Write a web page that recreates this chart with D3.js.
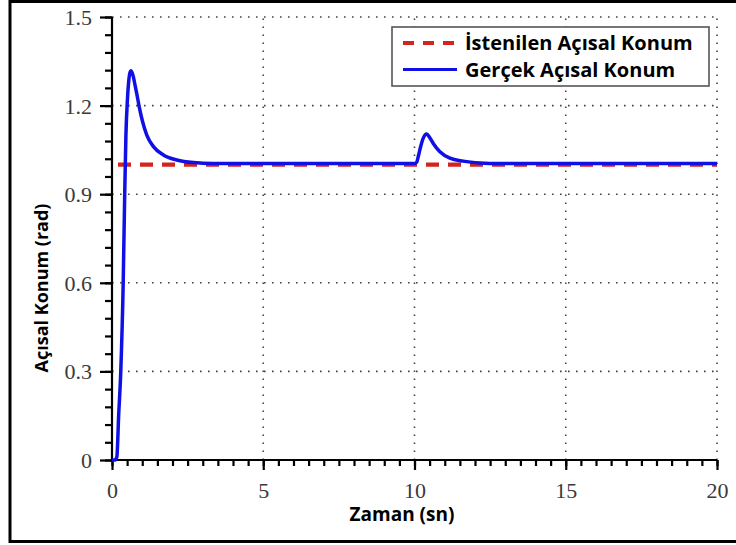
<!DOCTYPE html>
<html>
<head>
<meta charset="utf-8">
<script src="https://cdn.jsdelivr.net/npm/d3@7"></script>
<style>
  html, body { margin: 0; padding: 0; background: #fff; }
  svg { display: block; }
</style>
</head>
<body>
<svg id="chart" width="736" height="545"></svg>
<script>
// Time samples (s) and measured angular position (rad)
const timeSec = [0, 0.1, 0.16, 0.22, 0.29, 0.37, 0.42, 0.46, 0.51, 0.55, 0.59, 0.63, 0.705, 0.76, 0.815, 0.9, 1.01, 1.15, 1.37, 1.7, 2.14, 2.69, 3.35, 5, 8, 10.0, 10.07, 10.13, 10.2, 10.29, 10.4, 10.5, 10.62, 10.84, 11.17, 11.61, 12.17, 12.8, 15, 20];
const actualPos = [0, 0, 0.01, 0.15, 0.3, 0.6, 0.9, 1.1, 1.22, 1.28, 1.31, 1.318, 1.298, 1.27, 1.242, 1.196, 1.146, 1.10, 1.061, 1.033, 1.016, 1.007, 1.004, 1.004, 1.004, 1.004, 1.008, 1.03, 1.06, 1.09, 1.104, 1.092, 1.072, 1.044, 1.022, 1.012, 1.006, 1.004, 1.004, 1.004];
// Reference (desired) angular position
const refTime = [0, 20];
const refPos = [1.0, 1.0];

const xTicks = [0, 5, 10, 15, 20];
const yTicks = [0, 0.3, 0.6, 0.9, 1.2, 1.5];
const yTickLabels = ["0", "0.3", "0.6", "0.9", "1.2", "1.5"];

const legendLabels = ["İstenilen Açısal Konum", "Gerçek Açısal Konum"];
const xTitle = "Zaman (sn)";
const yTitle = "Açısal Konum (rad)";

const svg = d3.select("#chart");
const x = d3.scaleLinear().domain([0, 20]).range([112, 717]);
const y = d3.scaleLinear().domain([0, 1.5]).range([460, 17]);

// Outer frame
svg.append("rect")
  .attr("x", 10).attr("y", 1.5).attr("width", 740).attr("height", 540)
  .attr("fill", "none").attr("stroke", "#000").attr("stroke-width", 3);

// Dotted grid
const grid = svg.append("g").attr("stroke", "#444").attr("stroke-width", 1.6)
  .attr("stroke-dasharray", "1.6,6.4").attr("fill", "none");
xTicks.filter(d => d > 0).forEach(d => {
  grid.append("line").attr("x1", x(d)).attr("x2", x(d)).attr("y1", y(0)).attr("y2", y(1.5));
});
yTicks.filter(d => d > 0).forEach(d => {
  grid.append("line").attr("x1", x(0)).attr("x2", x(20)).attr("y1", y(d)).attr("y2", y(d));
});

// Axes
const xMinor = d3.range(0, 20.001, 0.5);
const yMinor = d3.range(0, 1.5001, 0.06);

const xAxisMinor = d3.axisBottom(x).tickValues(xMinor).tickSize(6).tickFormat("");
const xAxis = d3.axisBottom(x).tickValues(xTicks).tickSize(10).tickFormat(d3.format("d")).tickPadding(12);
const yAxisMinor = d3.axisLeft(y).tickValues(yMinor).tickSize(7).tickFormat("");
const yAxis = d3.axisLeft(y).tickValues(yTicks).tickSize(12)
  .tickFormat((d, i) => yTickLabels[i]).tickPadding(8);

function styleAxis(g) {
  g.selectAll("path, line").attr("stroke", "#000").attr("stroke-width", 2.2);
  g.selectAll("text").attr("fill", "#3a3a3a")
    .style("font-family", "'Liberation Serif', 'Times New Roman', serif")
    .style("font-size", "22px");
}

svg.append("g").attr("transform", `translate(0,${y(0)})`).call(xAxisMinor).call(styleAxis)
  .select(".domain").remove();
svg.append("g").attr("transform", `translate(0,${y(0)})`).call(xAxis).call(styleAxis)
  .call(g => g.select(".domain").attr("d", `M${x(0)},0H${x(20)}`));
svg.append("g").attr("transform", `translate(${x(0)},0)`).call(yAxisMinor).call(styleAxis)
  .select(".domain").remove();
svg.append("g").attr("transform", `translate(${x(0)},0)`).call(yAxis).call(styleAxis)
  .call(g => g.select(".domain").attr("d", `M0,${y(0)}V${y(1.5)}`))
  .call(g => g.selectAll("text").attr("dy", "0.34em"));

// Reference line (dashed red)
const refLine = d3.line().x((d, i) => x(refTime[i])).y(d => y(d));
svg.append("path").datum(refPos)
  .attr("d", refLine)
  .attr("fill", "none").attr("stroke", "#d4241e").attr("stroke-width", 4.2)
  .attr("stroke-dasharray", "13,9").attr("stroke-dashoffset", -6);

// Actual response (solid blue)
const actLine = d3.line().x((d, i) => x(timeSec[i])).y(d => y(d)).curve(d3.curveMonotoneX);
svg.append("path").datum(actualPos)
  .attr("d", actLine)
  .attr("fill", "none").attr("stroke", "#1010e6").attr("stroke-width", 3.5)
  .attr("stroke-linejoin", "round");

// Legend
const lg = svg.append("g");
lg.append("rect").attr("x", 392).attr("y", 27).attr("width", 317).attr("height", 59)
  .attr("fill", "#fff").attr("stroke", "#555").attr("stroke-width", 1.6);
lg.append("line").attr("x1", 403).attr("x2", 457).attr("y1", 43).attr("y2", 43)
  .attr("stroke", "#d4241e").attr("stroke-width", 4.2).attr("stroke-dasharray", "11,9");
lg.append("line").attr("x1", 403).attr("x2", 457).attr("y1", 69.5).attr("y2", 69.5)
  .attr("stroke", "#1010e6").attr("stroke-width", 3.2);
const legendFont = "'Open Sans', 'DejaVu Sans', sans-serif";
lg.selectAll("text.lbl").data(legendLabels).join("text")
  .attr("class", "lbl")
  .attr("x", 465).attr("y", (d, i) => i === 0 ? 50 : 77)
  .attr("font-family", legendFont).attr("font-weight", 700).attr("font-size", 20)
  .attr("fill", "#000")
  .text(d => d);

// Axis titles
svg.append("text").attr("x", 402).attr("y", 521).attr("text-anchor", "middle")
  .attr("font-family", legendFont).attr("font-weight", 700).attr("font-size", 19)
  .text(xTitle);
svg.append("text").attr("transform", "translate(48,288) rotate(-90)").attr("text-anchor", "middle")
  .attr("font-family", legendFont).attr("font-weight", 700).attr("font-size", 18)
  .text(yTitle);
</script>
</body>
</html>
